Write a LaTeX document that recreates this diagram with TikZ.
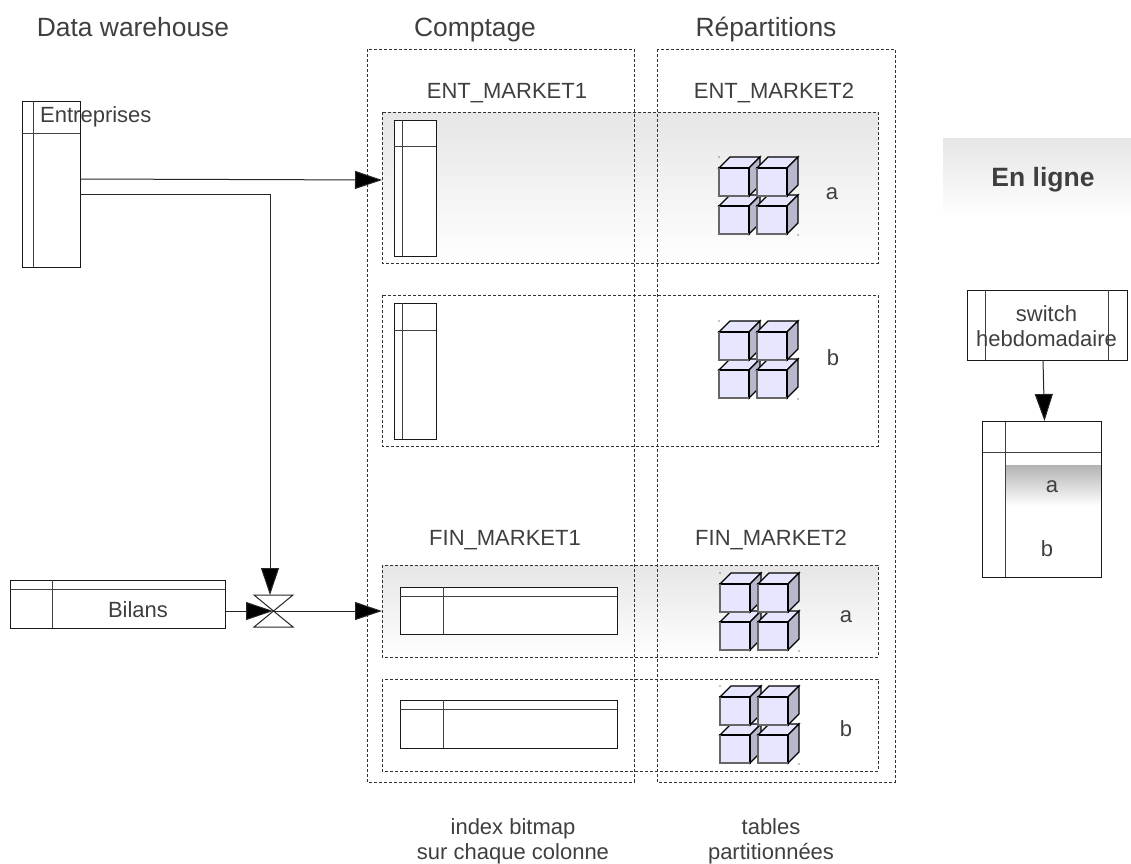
\documentclass[tikz,border=0pt]{standalone}
\usepackage{fontspec}
\setmainfont{Liberation Sans}
\usetikzlibrary{arrows.meta,calc}
\definecolor{txt}{HTML}{3F3F3F}
\definecolor{bandgray}{HTML}{E6E6E6}
\definecolor{cubefront}{HTML}{E6E6FF}
\definecolor{cubeside}{HTML}{B8B8CC}
\tikzset{
  lbl/.style={text=txt,font=\fontsize{22}{25}\selectfont,inner sep=0pt,align=center},
  head/.style={text=txt,font=\fontsize{26.4}{30}\selectfont,inner sep=0pt,anchor=base},
  frame/.style={draw=black!80,line width=1pt,dash pattern=on 3pt off 2pt},
  band/.style={frame,top color=bandgray,bottom color=white},
  tbl/.style={draw=black!90,line width=1pt,fill=white},
  tline/.style={draw=black!75,line width=1pt},
  conn/.style={draw=black!85,line width=1pt,-{Triangle[length=27pt,width=18pt,fill=black]}},
  plain/.style={draw=black!85,line width=1pt}
}
\newcommand{\boxnode}[5]{% name, x1,y1,x2,y2
  \node[tbl,anchor=north west,minimum width={#4pt-#2pt},minimum height={#5pt-#3pt},inner sep=0pt,outer sep=0pt] (#1) at (#2,#3) {};}
\newcommand{\onecube}[2]{%
  \draw[draw=black,line width=1.3pt,fill=cubefront] (#1,#2) -- ++(11,-11) -- ++(30,0) -- ++(-11,11) -- cycle;
  \draw[draw=black,line width=1.3pt,fill=cubeside] (#1+30,#2) -- ++(11,-11) -- ++(0,28) -- ++(-11,11) -- cycle;
  \draw[draw=black,line width=1.3pt,fill=cubefront] (#1,#2) rectangle ++(30,28);
  \draw[draw=black!60,line width=1.5pt] (#1,#2) -- ++(0,28) -- ++(30,0);}
\newcommand{\cubes}[2]{%
  \onecube{#1}{#2+38}\onecube{#1+38}{#2+38}\onecube{#1}{#2}\onecube{#1+38}{#2}
  \fill[black] (#1,#2-11) circle (.6);\fill[black] (#1+79,#2+67) circle (.6);}
\begin{document}
\begin{tikzpicture}[x=1pt,y=-1pt]
\useasboundingbox (0,0) rectangle (1131,863);
% headers
\node[head] (hDW) at (133,36) {Data warehouse};
\node[head] (hC) at (475,36) {Comptage};
\node[head] (hR) at (766,36) {Répartitions};
% bands
\path[band] (382,112) rectangle (878,263);
\path[frame] (382,295) rectangle (878,446);
\path[band] (382,565) rectangle (878,657);
\path[frame] (382,679) rectangle (878,771);
\node[draw=none,anchor=north west,minimum width=38pt,minimum height=92pt,inner sep=0pt,outer sep=0pt] (fin1) at (382,565) {};
\node[draw=none,anchor=north west,minimum width=10pt,minimum height=151pt,inner sep=0pt,outer sep=0pt] (ent1) at (382,112) {};
% columns
\path[frame] (367,49) rectangle (634,782);
\path[frame] (657,49) rectangle (895,782);
% labels
\node[lbl] (l1) at (507,93) {ENT\_MARKET1};
\node[lbl] (l2) at (774,93) {ENT\_MARKET2};
\node[lbl] (l3) at (505,540) {FIN\_MARKET1};
\node[lbl] (l4) at (771,540) {FIN\_MARKET2};
\node[lbl] (la1) at (832,194) {a};
\node[lbl] (lb1) at (833,358) {b};
\node[lbl] (la2) at (846,617) {a};
\node[lbl] (lb2) at (846,729) {b};
\node[lbl] (n1) at (513,841) {index bitmap\\sur chaque colonne};
\node[lbl] (n2) at (771,841) {tables\\partitionnées};
% inner tables
\boxnode{t1}{394}{120}{436}{256}
\draw[tline] (394,146.5) -- (436,146.5) (402,120) -- (402,256);
\boxnode{t2}{394}{303}{436}{439}
\draw[tline] (394,330) -- (436,330) (402,303) -- (402,439);
\boxnode{t3}{400}{587}{617}{634}
\draw[tline] (400,596) -- (617,596) (443,587) -- (443,634);
\boxnode{t4}{400}{700}{617}{748}
\draw[tline] (400,709) -- (617,709) (443,700) -- (443,748);
% cubes
\cubes{719}{168}
\cubes{719}{332}
\cubes{720}{584}
\cubes{720}{697}
% Entreprises
\boxnode{ent}{22}{101}{80}{267}
\draw[tline] (22,133) -- (80,133) (33,101) -- (33,267);
\node[lbl,anchor=west] (entL) at (40,117) {Entreprises};
% Bilans
\boxnode{bil}{10}{580}{225}{628}
\draw[tline] (10,589.5) -- (225,589.5) (52,580) -- (52,628);
\node[lbl] (bilL) at (138,610) {Bilans};
% valve
\coordinate (valve) at (273,611);
\coordinate (vIn) at (270,595);
\draw[plain] (254,595) -- (293,595) -- (254,627) -- (293,627) -- cycle;
% connectors
\draw[conn] ([yshift=5pt]ent.east) -- (ent1.west |- 0,180);
\draw[conn] ([yshift=-10pt]ent.east) -| (vIn);
\draw[conn] (bil.east |- valve) -- (valve);
\draw[conn] (valve) -- (fin1.west |- valve);
% En ligne
\node[top color=bandgray,bottom color=white,anchor=north west,minimum width=188pt,minimum height=80pt,inner sep=0pt,outer sep=0pt] (enl) at (943,138) {};
\node[text=txt,font=\bfseries\fontsize{26.5}{30}\selectfont,inner sep=0pt] (enlT) at (1043,180) {En ligne};
% switch
\boxnode{sw}{967}{290}{1127}{360}
\draw[tline] (985,290) -- (985,360) (1108,290) -- (1108,360);
\node[lbl] (swL) at (1046.5,326) {switch\\hebdomadaire};
% online table
\boxnode{on}{982}{421}{1101}{577}
\path[top color=black!30,bottom color=white] (1005,465) rectangle (1101,506);
\draw[tline] (982,452) -- (1101,452) (1005,421) -- (1005,577);
\draw[tbl,fill=none] (982,421) rectangle (1101,577);
\node[lbl] (lan) at (1052,487) {a};
\node[lbl] (lbn) at (1047,549) {b};
\draw[conn] ([xshift=-4pt]sw.south) -- ([xshift=3pt]on.north);
\end{tikzpicture}
\end{document}
